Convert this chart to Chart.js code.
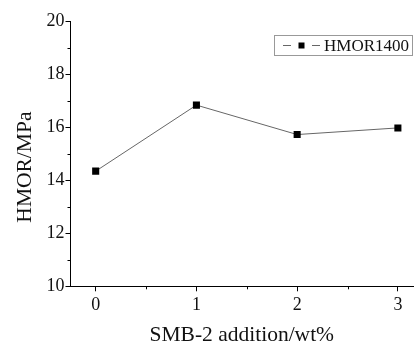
<!DOCTYPE html>
<html>
<head>
<meta charset="utf-8">
<script src="https://cdn.jsdelivr.net/npm/chart.js@4"></script>
<style>
  html, body { margin: 0; padding: 0; background: #fff; }
  #wrap { width: 418px; height: 342px; }
</style>
</head>
<body>
<div id="wrap"><canvas id="myChart" width="418" height="342"></canvas></div>
<script>
const additions = [0, 1, 2, 3];
const hmor = [14.34, 16.83, 15.72, 15.97];
const seriesLabel = 'HMOR1400';
const xMajor = [0, 1, 2, 3];
const xMinor = [0.5, 1.5, 2.5];
const yMajor = [10, 12, 14, 16, 18, 20];
const yMinor = [11, 13, 15, 17, 19];

const serif = "'Liberation Serif', 'Times New Roman', serif";

// short minor ticks, outside the axes
const minorTicks = {
  id: 'minorTicks',
  afterDraw(chart) {
    const ctx = chart.ctx;
    const x = chart.scales.x, y = chart.scales.y;
    const area = chart.chartArea;
    ctx.save();
    ctx.strokeStyle = '#000';
    ctx.lineWidth = 1;
    ctx.beginPath();
    xMinor.forEach(v => {
      const px = Math.round(x.getPixelForValue(v)) + 0.5;
      ctx.moveTo(px, area.bottom);
      ctx.lineTo(px, area.bottom + 3);
    });
    yMinor.forEach(v => {
      const py = Math.round(y.getPixelForValue(v)) + 0.5;
      ctx.moveTo(area.left, py);
      ctx.lineTo(area.left - 3, py);
    });
    ctx.stroke();
    ctx.restore();
  }
};

// boxed legend in the upper right corner
const boxLegend = {
  id: 'boxLegend',
  afterDraw(chart) {
    const ctx = chart.ctx;
    const ds = chart.data.datasets[0];
    ctx.save();
    ctx.strokeStyle = '#999';
    ctx.lineWidth = 1;
    ctx.strokeRect(274.5, 35.5, 138, 20);
    ctx.strokeStyle = ds.borderColor;
    ctx.beginPath();
    ctx.moveTo(283, 45.5); ctx.lineTo(291, 45.5);
    ctx.moveTo(312, 45.5); ctx.lineTo(320, 45.5);
    ctx.stroke();
    ctx.fillStyle = ds.pointBackgroundColor;
    ctx.fillRect(298.5, 42.5, 6, 6);
    ctx.fillStyle = '#111';
    ctx.font = '17px ' + serif;
    ctx.textBaseline = 'middle';
    ctx.fillText(ds.label, 324, 46.5);
    ctx.restore();
  }
};

new Chart(document.getElementById('myChart'), {
  type: 'line',
  data: {
    datasets: [{
      label: seriesLabel,
      data: additions.map((a, i) => ({ x: a, y: hmor[i] })),
      borderColor: '#666',
      borderWidth: 1,
      pointStyle: 'rect',
      pointRadius: 5,
      pointBackgroundColor: '#000',
      pointBorderColor: '#000',
      pointBorderWidth: 0,
      tension: 0
    }]
  },
  options: {
    responsive: false,
    animation: false,
    layout: { padding: { top: 21, right: 0, bottom: 0, left: 0 } },
    plugins: { legend: { display: false }, tooltip: { enabled: false } },
    scales: {
      x: {
        type: 'linear',
        min: -0.25,
        max: 3.15,
        afterBuildTicks: s => { s.ticks = xMajor.map(v => ({ value: v })); },
        afterFit: s => { s.height = 55.7; },
        border: { color: '#000', width: 1 },
        grid: { drawOnChartArea: false, drawTicks: true, tickLength: 5, color: '#000' },
        ticks: { color: '#111', padding: 3, font: { family: serif, size: 18 } },
        title: {
          display: true,
          text: 'SMB-2 addition/wt%',
          color: '#111',
          padding: { top: 0, bottom: 0 },
          font: { family: serif, size: 21.5, lineHeight: 0.65 }
        }
      },
      y: {
        min: 10,
        max: 20,
        afterBuildTicks: s => { s.ticks = yMajor.map(v => ({ value: v })); },
        afterFit: s => { s.width = 70.5; },
        border: { color: '#000', width: 1 },
        grid: { drawOnChartArea: false, drawTicks: true, tickLength: 5, color: '#000' },
        ticks: { color: '#111', padding: 1, font: { family: serif, size: 18 } },
        title: {
          display: true,
          text: 'HMOR/MPa\u00a0\u00a0\u00a0\u00a0\u00a0',
          color: '#111',
          padding: { top: 12, bottom: 0 },
          font: { family: serif, size: 21.5 }
        }
      }
    }
  },
  plugins: [minorTicks, boxLegend]
});
</script>
</body>
</html>
